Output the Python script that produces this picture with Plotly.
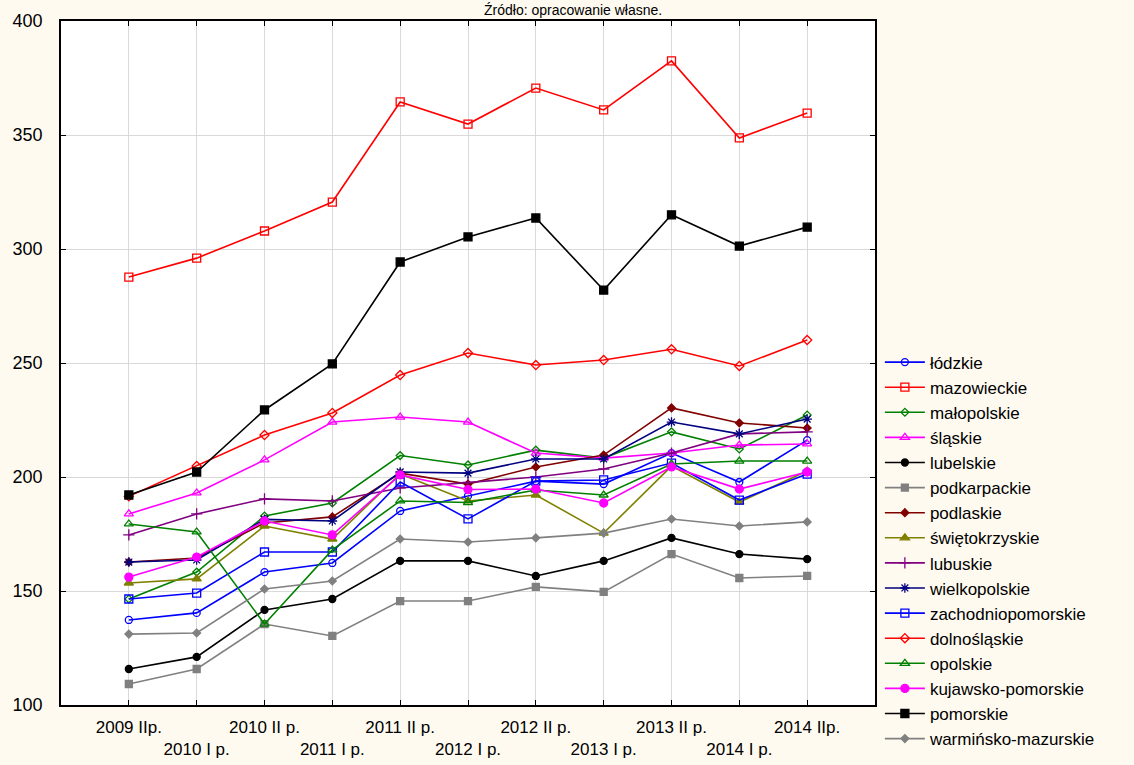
import plotly.graph_objects as go

periods = ["2009 IIp.", "2010 I p.", "2010 II p.", "2011 I p.", "2011 II p.", "2012 I p.",
           "2012 II p.", "2013 I p.", "2013 II p.", "2014 I p.", "2014 IIp."]

lodzkie = [137.3, 140.4, 158.3, 162.3, 185.1, 191.7, 198.2, 196.9, 210.5, 197.8, 216.2]
mazowieckie = [287.7, 296.0, 307.9, 320.6, 364.5, 354.8, 370.6, 361.0, 382.5, 348.7, 359.6]
malopolskie = [146.5, 158.3, 182.9, 188.6, 209.4, 205.3, 211.8, 208.3, 219.8, 212.3, 227.2]
slaskie = [183.8, 193.0, 207.5, 224.1, 226.3, 224.1, 210.5, 208.3, 210.5, 214.0, 214.5]
lubelskie = [115.8, 121.1, 141.7, 146.5, 163.2, 163.2, 156.6, 163.2, 173.3, 166.2, 164.0]
podkarpackie = [109.2, 115.8, 135.5, 130.3, 145.6, 145.6, 151.8, 149.6, 166.2, 155.7, 156.6]
podlaskie = [162.7, 164.5, 179.8, 182.5, 201.7, 196.9, 204.4, 209.6, 230.3, 223.7, 221.5]
swietokrzyskie = [153.5, 155.3, 178.5, 172.8, 201.3, 189.5, 192.1, 175.4, 204.8, 189.0, 202.6]
lubuskie = [174.6, 183.8, 190.4, 189.5, 195.2, 197.6, 200.0, 203.5, 210.5, 218.9, 219.8]
wielkopolskie = [162.7, 163.6, 181.4, 180.7, 202.2, 201.7, 207.9, 207.9, 224.1, 218.9, 225.4]
zachodniopomorskie = [146.5, 149.1, 167.1, 167.1, 197.8, 181.6, 198.2, 198.7, 206.1, 189.9, 201.3]
dolnoslaskie = [191.5, 204.8, 218.4, 228.1, 244.7, 254.4, 249.1, 251.3, 256.0, 248.7, 260.1]
opolskie = [179.4, 175.9, 135.5, 168.0, 189.5, 188.8, 194.3, 192.1, 205.7, 207.0, 207.0]
kujawsko_pomorskie = [156.1, 164.9, 180.7, 174.6, 200.9, 194.5, 194.7, 188.6, 204.4, 194.7, 202.2]
pomorskie = [192.1, 202.2, 229.4, 249.6, 294.3, 305.3, 313.6, 282.0, 315.0, 301.3, 309.6]
warminsko_mazurskie = [131.1, 131.6, 150.9, 154.4, 172.8, 171.5, 173.3, 175.4, 181.6, 178.5, 180.3]

series = [
    ("łódzkie", lodzkie, "#0000FF", "circle-open", 7),
    ("mazowieckie", mazowieckie, "#FF0000", "square-open", 8),
    ("małopolskie", malopolskie, "#008000", "diamond-open", 6),
    ("śląskie", slaskie, "#FF00FF", "triangle-up-open", 8),
    ("lubelskie", lubelskie, "#000000", "circle", 7),
    ("podkarpackie", podkarpackie, "#808080", "square", 7),
    ("podlaskie", podlaskie, "#800000", "diamond", 6),
    ("świętokrzyskie", swietokrzyskie, "#808000", "triangle-up", 8),
    ("lubuskie", lubuskie, "#800080", "cross-thin-open", 8),
    ("wielkopolskie", wielkopolskie, "#000080", "asterisk-open", 8),
    ("zachodniopomorskie", zachodniopomorskie, "#0000FF", "square-open", 8),
    ("dolnośląskie", dolnoslaskie, "#FF0000", "diamond-open", 7),
    ("opolskie", opolskie, "#008000", "triangle-up-open", 8),
    ("kujawsko-pomorskie", kujawsko_pomorskie, "#FF00FF", "circle", 8),
    ("pomorskie", pomorskie, "#000000", "square", 8),
    ("warmińsko-mazurskie", warminsko_mazurskie, "#808080", "diamond", 6),
]

x_idx = list(range(len(periods)))
ticktext = [p if i % 2 == 0 else "<br>" + p for i, p in enumerate(periods)]

PAPER = "#FFFAF0"

fig = go.Figure()
for name, vals, color, sym, size in series:
    fig.add_trace(go.Scatter(
        x=x_idx, y=vals, name=name, mode="lines+markers",
        line=dict(color=color, width=1.6),
        marker=dict(symbol=sym, size=size, color=color, line=dict(color=color, width=1.3)),
    ))

fig.update_layout(
    width=1134, height=765,
    margin=dict(l=61, r=259, t=21, b=60, autoexpand=False),
    paper_bgcolor=PAPER,
    plot_bgcolor="#FFFFFF",
    font=dict(family="Liberation Sans, Arial, sans-serif", color="#000000", size=17),
    showlegend=True,
    legend=dict(x=1.006, y=0.527, xanchor="left", yanchor="top", itemwidth=40,
                bgcolor="rgba(0,0,0,0)", font=dict(size=17)),
    annotations=[dict(text="Źródło: opracowanie własne.", xref="paper", yref="paper",
                      x=0.629, y=1 + 21 / 684, xanchor="center", yanchor="top",
                      showarrow=False, font=dict(size=14))],
)
fig.update_xaxes(
    range=[-1, 11], tickmode="array", tickvals=x_idx, ticktext=ticktext,
    tickangle=0, automargin=False, ticklabelstandoff=6,
    showgrid=True, gridcolor="#D9D9D9", gridwidth=1,
    showline=True, linecolor="#000000", linewidth=1.5, mirror="ticks",
    ticks="inside", ticklen=5, tickcolor="#000000", zeroline=False,
    tickfont=dict(size=17),
)
fig.update_yaxes(
    range=[100, 400], tickmode="array", tickvals=[100, 150, 200, 250, 300, 350, 400],
    automargin=False, ticklabelstandoff=13,
    showgrid=True, gridcolor="#D9D9D9", gridwidth=1,
    showline=True, linecolor="#000000", linewidth=1.5, mirror="ticks",
    ticks="inside", ticklen=5, tickcolor="#000000", zeroline=False,
    tickfont=dict(size=18),
)

fig.write_html(
    "out.html",
    config={"displayModeBar": False},
    post_script="document.body.style.margin='0';document.body.style.background='" + PAPER + "';",
)
